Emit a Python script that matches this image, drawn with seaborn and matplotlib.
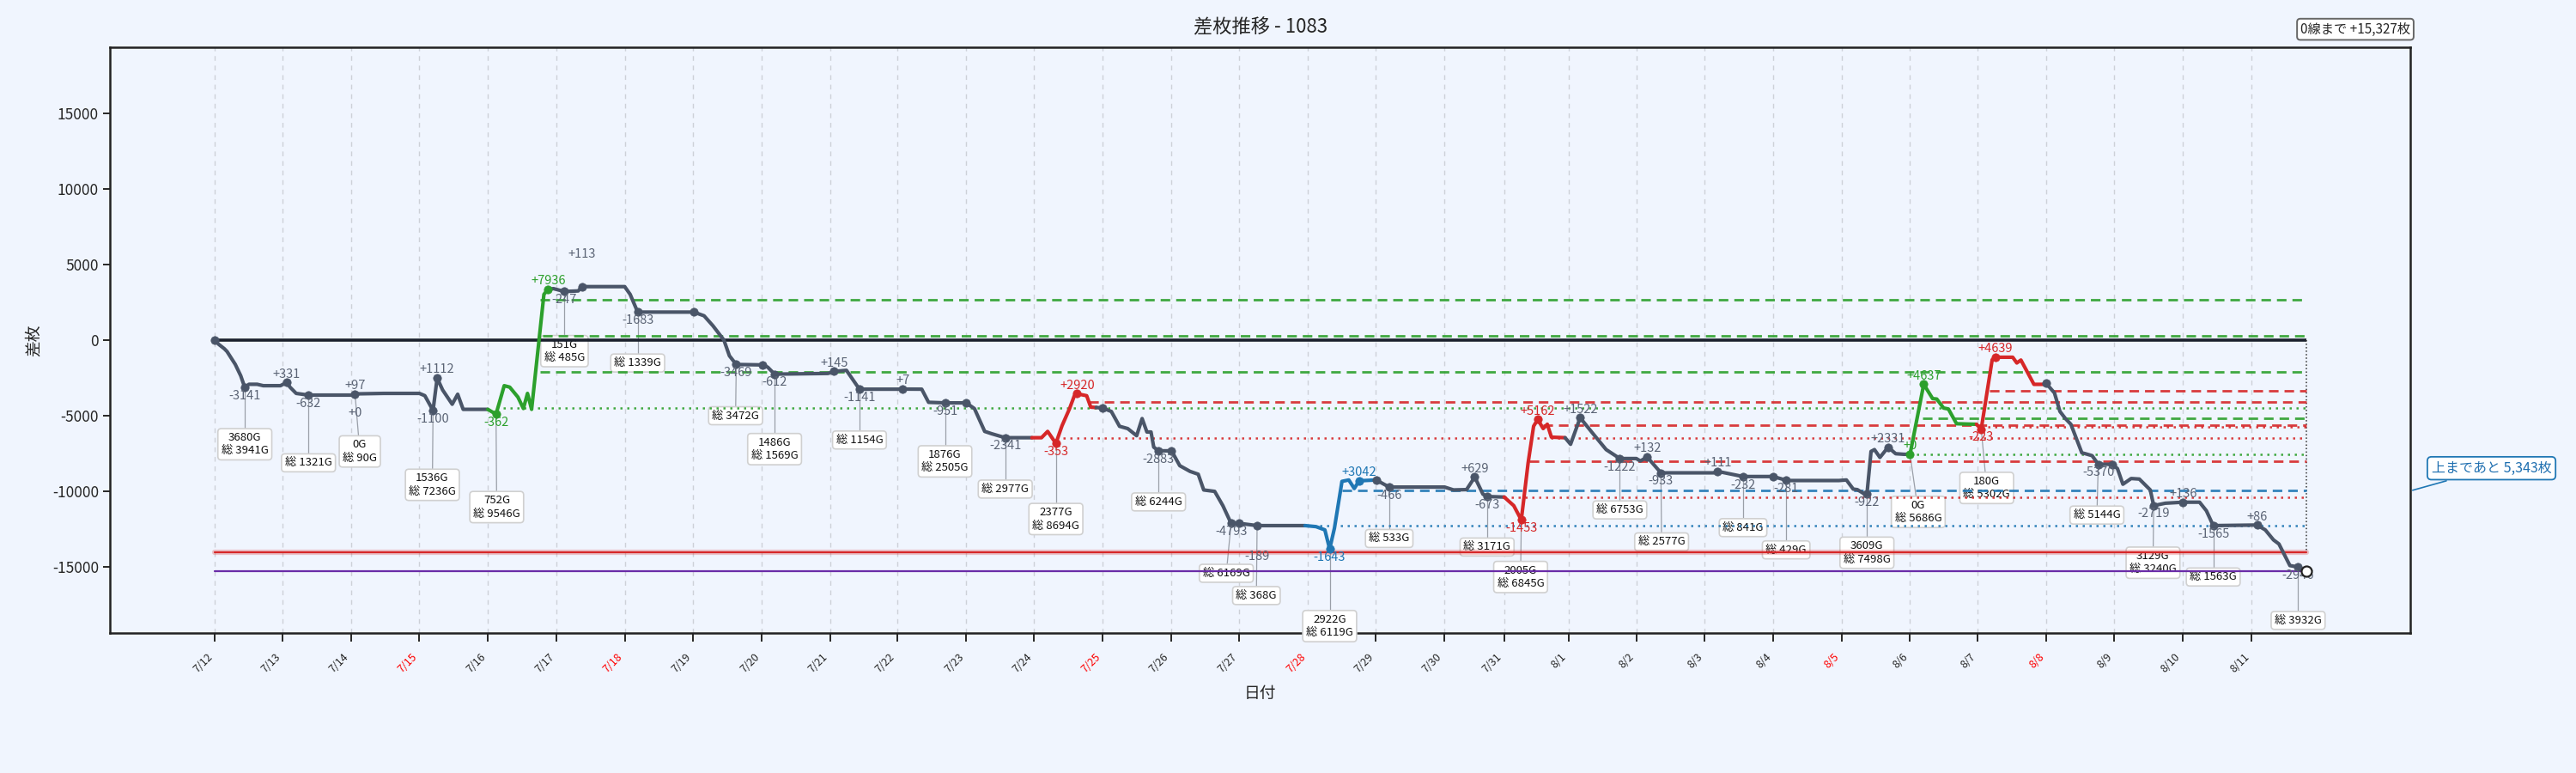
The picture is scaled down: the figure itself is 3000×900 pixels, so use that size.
import matplotlib
matplotlib.use("Agg")
import matplotlib.pyplot as plt
import seaborn as sns
import numpy as np
import pandas as pd

# --- values ---
# x axis: day position (tick = start of that day), y: cumulative 差枚
day_labels = ['7/12', '7/13', '7/14', '7/15', '7/16', '7/17', '7/18', '7/19', '7/20', '7/21',
              '7/22', '7/23', '7/24', '7/25', '7/26', '7/27', '7/28', '7/29', '7/30', '7/31',
              '8/1', '8/2', '8/3', '8/4', '8/5', '8/6', '8/7', '8/8', '8/9', '8/10', '8/11']
day_pos = [0, 0.99, 1.99, 2.99, 3.99, 4.99, 5.99, 6.99, 7.99, 8.99,
           9.97, 10.98, 11.97, 12.97, 13.97, 14.97, 15.97, 16.96, 17.96, 18.84,
           19.78, 20.77, 21.77, 22.77, 23.77, 24.77, 25.76, 26.76, 27.75, 28.75, 29.76]
red_days = ['7/15', '7/18', '7/25', '7/28', '8/5', '8/8']

px = [0, 0.06, 0.14, 0.18, 0.30, 0.38, 0.44, 0.50, 0.62, 0.71, 0.96, 1.05, 1.10, 1.19, 1.37,
      1.99, 2.05, 2.47, 2.99, 3.07, 3.19, 3.25, 3.33, 3.47, 3.55, 3.63, 3.99,
      4.11, 4.23, 4.31, 4.43, 4.51, 4.57, 4.63, 4.81, 4.87,
      4.95, 5.11, 5.31, 5.37, 5.99, 6.07, 6.18, 7.00, 7.15, 7.28, 7.44, 7.52, 7.62, 8.00, 8.08,
      8.18, 8.96, 9.05, 9.23, 9.42, 9.97, 10.05, 10.33, 10.43, 10.67, 10.98, 11.10, 11.25,
      11.35, 11.55, 11.94,
      12.08, 12.17, 12.29, 12.38, 12.49, 12.56, 12.60, 12.74, 12.80, 12.88,
      12.97, 13.10, 13.22, 13.34, 13.47, 13.55, 13.62, 13.68, 13.72, 13.79, 13.98, 14.10,
      14.25, 14.37, 14.45, 14.61, 14.73, 14.85, 14.97, 15.23, 15.93,
      16.09, 16.22, 16.29, 16.36, 16.47, 16.57, 16.65, 16.72, 16.97,
      17.16, 17.97, 18.10, 18.29, 18.41, 18.53, 18.59, 18.84,
      18.98, 19.09, 19.19, 19.27, 19.33, 19.41, 19.47, 19.53, 19.73,
      19.81, 19.95, 20.13, 20.33, 20.53, 20.77, 20.83, 20.93, 21.13, 21.90, 21.96, 22.33,
      22.77, 22.90, 22.96, 23.73, 23.84, 23.94, 24.00, 24.09, 24.14, 24.20, 24.25, 24.33,
      24.45, 24.56, 24.68, 24.77,
      24.97, 25.10, 25.16, 25.26, 25.33, 25.45, 25.74,
      25.81, 25.89, 25.97, 26.02, 26.27, 26.33, 26.39, 26.58, 26.73,
      26.76, 26.88, 26.96, 27.04, 27.12, 27.28, 27.33, 27.43, 27.52, 27.72, 27.80, 27.88,
      28.00, 28.12, 28.28, 28.33, 28.50, 28.76, 29.00, 29.10, 29.20, 29.84, 29.96, 30.08,
      30.16, 30.32, 30.44, 30.56]
py = [0, -284, -568, -754, -1603, -2358, -3141, -2924, -2924, -3018, -3018, -2810, -3113, -3528, -3640,
      -3640, -3560, -3528, -3528, -3679, -4660, -2509, -3301, -4245, -3584, -4584, -4584,
      -4905, -3018, -3113, -3773, -4528, -3528, -4584, 3030, 3371,
      3409, 3220, 3258, 3542, 3542, 3030, 1856, 1856, 1610, 947, 0, -1037, -1613, -1641, -1792,
      -2253, -2207, -2075, -2000, -3249, -3249, -3242, -3249, -4118, -4156, -4156, -4534, -6044,
      -6196, -6462, -6462,
      -6462, -6045, -6838, -5668, -4534, -3683, -3550, -3683, -4439, -4460,
      -4496, -4723, -5706, -5858, -6330, -5196, -6084, -6084, -7086, -7331, -7331, -8314,
      -8692, -8881, -9922, -10017, -10961, -12133, -12133, -12283, -12283,
      -12350, -12566, -13835, -12453, -9354, -9260, -9827, -9316, -9260,
      -9732, -9732, -9920, -9900, -9070, -10204, -10356, -10393,
      -10961, -11907, -8125, -5700, -5252, -5857, -5570, -6425, -6462,
      -6897, -5139, -6150, -7250, -7842, -7842, -8000, -7747, -8788, -8788, -8692, -9033,
      -9033, -9200, -9298, -9298, -9260, -9865, -9900, -10150, -10206, -7371, -7250, -7769,
      -7087, -7522, -7560, -7560,
      -2928, -3873, -3900, -4497, -4560, -5536, -5573,
      -5895, -3590, -1300, -1134, -1134, -1512, -1320, -2928, -2928,
      -2870, -3496, -4723, -5195, -5573, -7462, -7520, -7651, -8221, -8221, -8504, -9543,
      -9165, -9200, -9921, -10960, -10800, -10733, -10733, -11300, -12283, -12245, -12566, -13228,
      -13500, -14929, -15023, -15327]

# coloured sessions (from x, to x, colour key)
run_from = [3.99, 11.94, 15.93, 18.84, 24.77, 25.74]
run_to = [4.87, 12.88, 16.97, 19.73, 25.74, 26.73]
run_key = ['g', 'r', 'b', 'r', 'g', 'r']

# session markers
mark_x = [0, 0.44, 1.05, 1.37, 2.05, 3.19, 3.25, 4.11, 4.87, 5.11, 5.37, 6.18, 7.0, 7.62, 8.0,
          8.18, 9.05, 9.42, 10.05, 10.67, 10.98, 11.55, 12.29, 12.60, 12.97, 13.79, 13.98,
          14.85, 14.97, 15.23, 16.29, 16.72, 16.97, 17.16, 18.41, 18.59, 19.09, 19.33, 19.95,
          20.53, 20.93, 21.13, 21.96, 22.33, 22.77, 22.96, 24.14, 24.45, 24.77, 24.97, 25.81,
          26.02, 26.76, 27.52, 27.72, 28.33, 28.76, 29.20, 29.84, 30.44]
mark_key = ['n', 'n', 'n', 'n', 'n', 'n', 'n', 'g', 'g', 'n', 'n', 'n', 'n', 'n', 'n',
            'n', 'n', 'n', 'n', 'n', 'n', 'n', 'r', 'r', 'n', 'n', 'n',
            'n', 'n', 'n', 'b', 'b', 'n', 'n', 'n', 'n', 'r', 'r', 'n',
            'n', 'n', 'n', 'n', 'n', 'n', 'n', 'n', 'n', 'g', 'g', 'r',
            'r', 'n', 'n', 'n', 'n', 'n', 'n', 'n', 'n']

# session result labels
lab_x = [0.44, 1.05, 1.37, 2.05, 2.05, 3.19, 3.25, 4.11, 4.87, 5.11, 5.37, 6.18, 7.62, 8.18,
         9.05, 9.42, 10.05, 10.67, 11.55, 12.29, 12.60, 13.79, 14.85, 15.23, 16.29, 16.72,
         17.16, 18.41, 18.59, 19.09, 19.33, 19.95, 20.53, 20.93, 21.13, 21.96, 22.33, 22.96,
         24.14, 24.45, 24.77, 24.97, 25.81, 26.02, 27.52, 28.33, 28.76, 29.20, 29.84, 30.44]
lab_text = ['-3141', '+331', '-632', '+97', '+0', '-1100', '+1112', '-362', '+7936', '-247',
            '+113', '-1683', '-3469', '-612', '+145', '-1141', '+7', '-951', '-2341', '-353',
            '+2920', '-2883', '-4793', '-189', '-1643', '+3042', '-466', '+629', '-673',
            '-1453', '+5162', '+1522', '-1222', '+132', '-933', '+111', '-232', '-281', '-922',
            '+2331', '+0', '+4637', '-223', '+4639', '-5370', '-2719', '+136', '-1565', '+86',
            '-2946']
lab_key = ['n', 'n', 'n', 'n', 'n', 'n', 'n', 'g', 'g', 'n', 'n', 'n', 'n', 'n', 'n', 'n',
           'n', 'n', 'n', 'r', 'r', 'n', 'n', 'n', 'b', 'b', 'n', 'n', 'n', 'r', 'r', 'n',
           'n', 'n', 'n', 'n', 'n', 'n', 'n', 'n', 'g', 'g', 'r', 'r', 'n', 'n', 'n', 'n',
           'n', 'n']

# game-count boxes: anchor marker x, box position, text
box_anchor = [0.44, 1.37, 2.05, 3.19, 4.11, 5.11, 6.18, 7.62, 8.18, 9.42, 10.67, 11.55, 12.29,
              13.79, 14.85, 15.23, 16.29, 17.16, 18.59, 19.09, 20.53, 21.13, 22.33, 22.96,
              24.14, 24.77, 25.81, 27.52, 28.33, 29.20, 30.44]
box_x = [0.44, 1.37, 2.12, 3.18, 4.12, 5.11, 6.18, 7.61, 8.18, 9.42, 10.67, 11.55, 12.29,
         13.79, 14.78, 15.22, 16.29, 17.16, 18.59, 19.08, 20.53, 21.14, 22.33, 22.96,
         24.14, 24.89, 25.89, 27.50, 28.32, 29.20, 30.44]
box_y = [-6895, -8125, -7371, -9582, -11056, -730, -1515, -5007, -7218, -6613, -8030, -9864,
         -11847, -10714, -15440, -16914, -18937, -13134, -13701, -15686, -11243, -13361,
         -12416, -13890, -14079, -11375, -9789, -11584, -14740, -15686, -18560]
box_text = ['3680G\n総 3941G', '総 1321G', '0G\n総 90G', '1536G\n総 7236G', '752G\n総 9546G',
            '151G\n総 485G', '総 1339G', '総 3472G', '1486G\n総 1569G', '総 1154G',
            '1876G\n総 2505G', '総 2977G', '2377G\n総 8694G', '総 6244G', '総 6169G', '総 368G',
            '2922G\n総 6119G', '総 533G', '総 3171G', '2005G\n総 6845G', '総 6753G', '総 2577G',
            '総 841G', '総 429G', '3609G\n総 7498G', '0G\n総 5686G', '180G\n総 5302G',
            '総 5144G', '3129G\n総 3240G', '総 1563G', '総 3932G']

# session level lines: start x, level, colour key, style key
lvl_x = [4.75, 4.79, 4.75, 4.11, 12.77, 12.29, 16.47, 16.05, 19.41, 19.21, 18.84,
         24.95, 24.77, 25.93, 25.81]
lvl_y = [2652, 284, -2121, -4496, -4099, -6462, -9940, -12302, -5630, -7993, -10393,
         -5158, -7560, -3362, -5740]
lvl_key = ['g', 'g', 'g', 'g', 'r', 'r', 'b', 'b', 'r', 'r', 'r', 'g', 'g', 'r', 'r']
lvl_style = ['--', '--', '--', ':', '--', ':', '--', ':', '--', '--', ':', '--', ':', '--', ':']

current = -15327
lower_line = -14050
to_zero = '0線まで +15,327枚'
to_upper = '上まであと 5,343枚'
upper_level = -9984

# --- style ---
BG = '#f0f5fe'
COL = {'n': '#4a5568', 'g': '#2ca02c', 'r': '#d62728', 'b': '#1f77b4'}
LAB = {'n': '#5b6475', 'g': '#2ca02c', 'r': '#d62728', 'b': '#1f77b4'}

sns.set_style("white")
plt.rcParams['font.family'] = ['Noto Sans CJK JP', 'DejaVu Sans']
plt.rcParams['axes.unicode_minus'] = False

fig = plt.figure(figsize=(30, 9), dpi=100, facecolor=BG)
ax = fig.add_axes([0.0427, 0.181, 0.893, 0.758])
ax.set_facecolor(BG)

end_x = px[-1]

# reference lines
ax.plot([0, end_x], [0, 0], color='#1a202c', lw=2.6, zorder=4, solid_capstyle='butt')
ax.plot([0, end_x], [lower_line, lower_line], color='#d62728', lw=4.5, alpha=0.25, zorder=4)
ax.plot([0, end_x], [lower_line, lower_line], color='#d62728', lw=1.6, zorder=4)
ax.plot([0, end_x], [current, current], color='#6a2ca8', lw=1.6, zorder=4)
ax.plot([end_x, end_x], [0, lower_line], color='#333333', lw=1.1, ls=':', zorder=4)

for x0, yv, k, st in zip(lvl_x, lvl_y, lvl_key, lvl_style):
    if st == '--':
        ax.plot([x0, end_x], [yv, yv], color=COL[k], lw=2.0, ls=(0, (4, 2.5)), alpha=0.9, zorder=4)
    else:
        ax.plot([x0, end_x], [yv, yv], color=COL[k], lw=1.8, ls=(0, (1, 2.2)), alpha=0.9, zorder=4)

# main line, split into coloured runs
def seg_key(a, b):
    for f, t, k in zip(run_from, run_to, run_key):
        if a >= f - 1e-9 and b <= t + 1e-9:
            return k
    return 'n'

runs = []
for i in range(1, len(px)):
    k = seg_key(px[i - 1], px[i])
    if runs and runs[-1][0] == k:
        runs[-1][1].append(i)
    else:
        runs.append([k, [i - 1, i]])

for k, idx in runs:
    seg = pd.DataFrame({'x': [px[j] for j in idx], 'y': [py[j] for j in idx]})
    sns.lineplot(data=seg, x='x', y='y', sort=False, estimator=None, color=COL[k],
                 lw=3.0, ax=ax, zorder=6)

mark_y = np.interp(mark_x, px, py)
marks = pd.DataFrame({'x': mark_x, 'y': mark_y, 'k': mark_key})
for k, grp in marks.groupby('k'):
    sns.scatterplot(data=grp, x='x', y='y', color=COL[k], edgecolor=COL[k], s=45,
                    ax=ax, zorder=7, legend=False)
ax.scatter([end_x], [current], s=75, facecolor='white', edgecolor='#222222', lw=1.6, zorder=9)

# boxes with game counts
for ax0, bx, by, t in zip(box_anchor, box_x, box_y, box_text):
    ay = np.interp(ax0, px, py)
    ax.plot([ax0, bx], [ay, by], color='#9a9fa8', lw=0.9, zorder=2)
    ax.text(bx, by, t, ha='center', va='center', fontsize=9.5, color='#111111', zorder=3,
            linespacing=1.25, clip_on=False,
            bbox=dict(boxstyle='round,pad=0.3', fc='white', ec='#d0d0d0', lw=1.2))

# session result labels
special_dy = {('+0', 2.05): -16, ('+113', 5.37): 27, ('-189', 15.23): -26}
for lx, t, k in zip(lab_x, lab_text, lab_key):
    ly = np.interp(lx, px, py)
    dy = special_dy.get((t, lx), 7 if t.startswith('+') else -7)
    ax.annotate(t, (lx, ly), xytext=(0, dy), textcoords='offset points', ha='center',
                va='center', fontsize=10.5, color=LAB[k], zorder=8)

# axes
ax.set_xlim(-1.53, 32.08)
ax.set_ylim(-19400, 19400)
ax.set_xticks(day_pos)
ax.set_xticklabels(day_labels, rotation=45, ha='right', fontsize=9)
for lab in ax.get_xticklabels():
    if lab.get_text() in red_days:
        lab.set_color('red')
ax.set_yticks([-15000, -10000, -5000, 0, 5000, 10000, 15000])
ax.tick_params(axis='y', labelsize=12.5, length=6, width=1.4, direction='out', left=True)
ax.tick_params(axis='x', length=7, width=1.4, direction='out', bottom=True, pad=8)
ax.xaxis.grid(True, ls=(0, (4, 4)), color='#cdd1d8', lw=1.0)
ax.yaxis.grid(False)
ax.set_axisbelow(True)
for s in ax.spines.values():
    s.set_color('#222222')
    s.set_linewidth(1.8)

ax.set_title('差枚推移 - 1083', fontsize=16, pad=12)
ax.set_xlabel('日付', fontsize=13.5, labelpad=8)
ax.set_ylabel('差枚', fontsize=13.5, labelpad=8)

ax.text(1.0, 1.018, to_zero, transform=ax.transAxes, ha='right', va='bottom', fontsize=11,
        bbox=dict(boxstyle='round,pad=0.25', fc='white', ec='#666666', lw=1.4))
ax.annotate(to_upper, xy=(1.0, upper_level), xycoords=('axes fraction', 'data'),
            xytext=(68, 19), textcoords='offset points', ha='center', va='center',
            fontsize=11.5, color='#1f6fb0', annotation_clip=False,
            bbox=dict(boxstyle='round,pad=0.3', fc='white', ec='#1f77b4', lw=1.3),
            arrowprops=dict(arrowstyle='-', color='#1f77b4', lw=1.2))

fig.savefig('out.png', dpi=100, facecolor=BG)
